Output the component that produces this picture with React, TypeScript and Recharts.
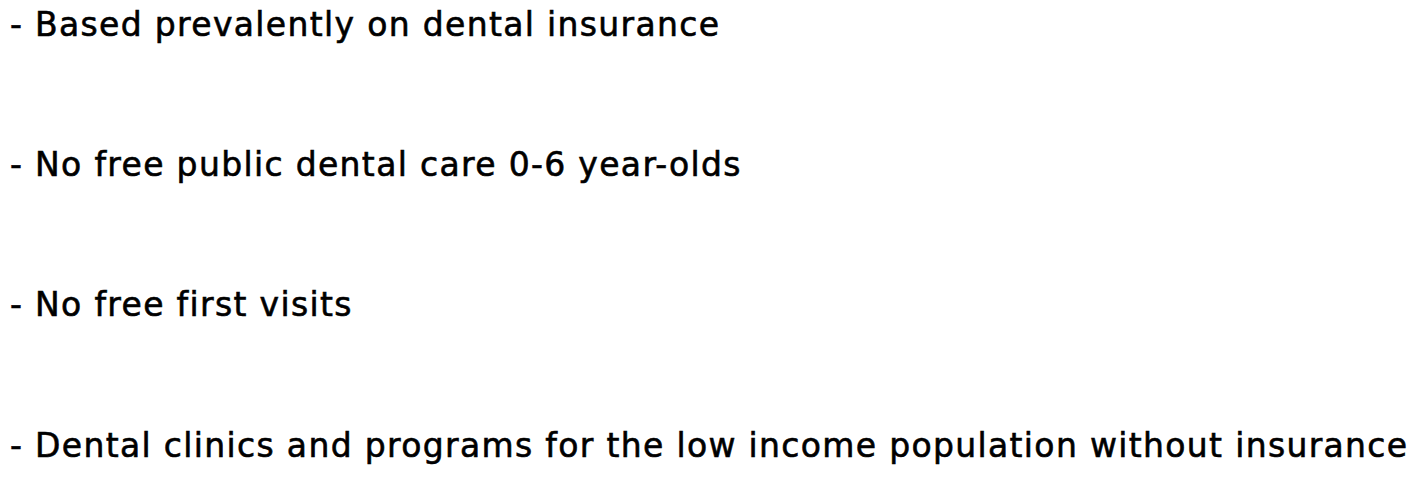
import React from "react";
import { ComposedChart, XAxis, YAxis, Line } from "recharts";

const bulletLabels: string[] = [
  "- Based prevalently on dental insurance",
  "- No free public dental care 0-6 year-olds",
  "- No free first visits",
  "- Dental clinics and programs for the low income population without insurance",
];
const bulletPositions: number[] = [0, 1, 2, 3];

const data = bulletLabels.map((label, i) => ({ label, pos: bulletPositions[i] }));

const FONT = "'DejaVu Sans', sans-serif";

const BulletTick = (props: any) => {
  const { y, payload } = props;
  const text = bulletLabels[payload.value] ?? "";
  return (
    <text
      x={10}
      y={y}
      dy={11}
      textAnchor="start"
      fontFamily={FONT}
      fontSize={33}
      letterSpacing={1.33}
      fill="#000000"
      stroke="#000000"
      strokeWidth={0.6}
    >
      {text}
    </text>
  );
};

export default function App() {
  return (
    <div style={{ position: "absolute", left: 0, top: 0, width: 1419, height: 480, background: "#ffffff" }}>
      <ComposedChart
        width={1419}
        height={480}
        data={data}
        margin={{ top: 25, right: 0, bottom: 34.5, left: 0 }}
      >
        <XAxis dataKey="label" hide />
        <YAxis
          type="number"
          dataKey="pos"
          domain={[0, 3]}
          ticks={bulletPositions}
          reversed
          width={1419}
          axisLine={false}
          tickLine={false}
          tick={<BulletTick />}
          interval={0}
        />
        <Line dataKey="pos" stroke="none" dot={false} isAnimationActive={false} />
      </ComposedChart>
    </div>
  );
}
